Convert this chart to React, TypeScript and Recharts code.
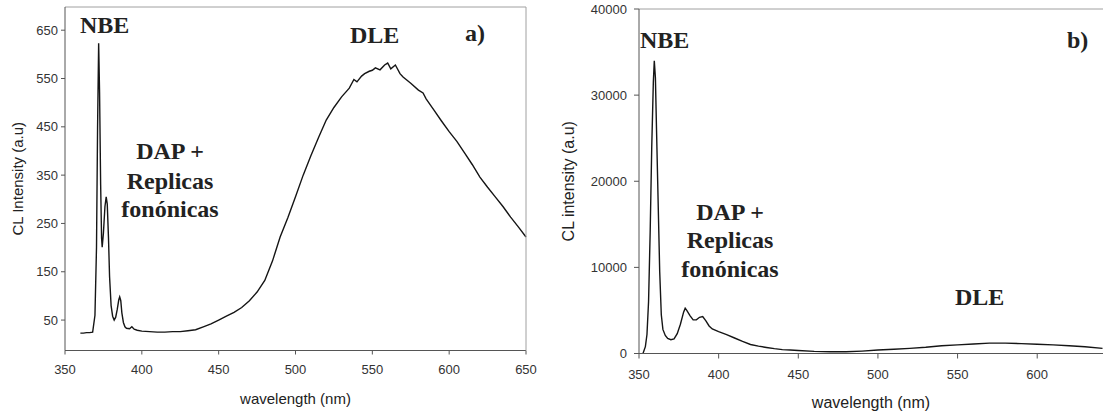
import React from "react";
import { LineChart, Line, XAxis, YAxis } from "recharts";

// panel a) CL spectrum
const nmA = [
  360, 362, 364, 366, 368, 369.5, 370.5, 371.2, 371.9, 372.5, 373.2, 373.8, 374.2, 375, 376, 376.8,
  377.5, 378.3, 379, 380, 381, 382, 383, 384, 385, 385.6, 386.3, 387, 388, 389, 390, 392, 393.5,
  395, 397, 400, 405, 410, 415, 420, 425, 430, 435, 440, 445, 450, 455, 460, 465, 470, 475, 480,
  485, 490, 495, 500, 505, 510, 515, 520, 525, 530, 535, 538, 540, 543, 545, 548, 550, 552, 555,
  558, 560, 562, 565, 568, 570, 575, 580, 583, 585, 590, 595, 600, 605, 610, 615, 620, 625, 630,
  635, 640, 645, 650,
];
const intensityA = [
  23, 23, 24, 24, 25, 60, 200, 450, 623, 520, 330, 220, 201, 230, 285, 305,
  290, 220, 140, 80, 58, 50, 56, 72, 92, 98, 90, 65, 45, 36, 33, 32, 36,
  31, 29, 27, 26, 25, 25, 26, 26, 28, 30, 36, 42, 50, 58, 66, 76, 90, 108, 132,
  172, 222, 262, 305, 350, 390, 428, 464, 490, 512, 530, 548, 543, 555, 560, 565, 567, 572, 568,
  578, 582, 570, 578, 560, 553, 540, 526, 520, 508, 485, 462, 440, 420, 396, 372, 346, 325, 305,
  285, 263, 243, 222,
];

// panel b) CL spectrum
const nmB = [
  352.5, 354, 355, 356, 357, 358, 359, 359.6, 360.3, 361, 362, 363, 364, 365, 366.5, 368, 370,
  372, 374, 376, 378, 379, 380, 382, 384, 386, 388, 390, 392, 394, 396, 400, 405, 410, 415, 420,
  425, 430, 435, 440, 445, 450, 460, 470, 480, 490, 500, 510, 520, 530, 540, 550, 560, 570, 580,
  590, 600, 610, 620, 630, 641,
];
const intensityB = [
  0, 800, 2200, 6000, 14000, 24000, 31500, 34000, 32000, 26000, 17700, 9500, 4500, 2800, 2100,
  1750, 1600, 1700, 2300, 3400, 4800, 5250, 5000, 4400, 3900, 3900, 4200, 4300, 3800, 3200, 2850,
  2550, 2200, 1800, 1400, 1050, 850, 700, 560, 450, 400, 350, 250, 200, 200, 280, 400, 500, 600,
  720, 900, 1000, 1100, 1200, 1200, 1150, 1080, 1000, 900, 780, 600,
];

const xTicksA = [350, 400, 450, 500, 550, 600, 650];
const yTicksA = [50, 150, 250, 350, 450, 550, 650];
const xTicksB = [350, 400, 450, 500, 550, 600];
const yTicksB = [0, 10000, 20000, 30000, 40000];

const dataA = nmA.map((nm, i) => ({ nm, v: intensityA[i] }));
const dataB = nmB.map((nm, i) => ({ nm, v: intensityB[i] }));

const axisColor = "#555";
const frameColor = "#a0a0a0";
const tickFont = { fontFamily: "'Liberation Sans', Arial, sans-serif", fontSize: 13, fill: "#333" };
const noteFont = {
  fontFamily: "'Liberation Serif', 'Times New Roman', serif",
  fontWeight: 700,
  fontSize: 24,
  fill: "#222",
};

export default function App() {
  return (
    <div style={{ position: "absolute", left: 0, top: 0, width: 1103, height: 417, background: "#fff" }}>
      <div style={{ position: "absolute", left: 0, top: 0 }}>
        <LineChart width={540} height={417} data={dataA} margin={{ top: 6, right: 14, bottom: 36.5, left: 0 }}>
          <XAxis
            dataKey="nm"
            type="number"
            domain={[350, 650]}
            ticks={xTicksA}
            height={30}
            tickSize={4}
            tickMargin={10}
            tick={tickFont}
            stroke={axisColor}
            label={{
              value: "wavelength (nm)",
              position: "bottom",
              offset: 13,
              style: { fontFamily: "'Liberation Sans', Arial, sans-serif", fontSize: 15, fill: "#222" },
            }}
          />
          <XAxis xAxisId="top" dataKey="nm" orientation="top" type="number" domain={[350, 650]} height={1} tick={false} tickLine={false} stroke={frameColor} />
          <YAxis
            type="number"
            domain={[-13, 698]}
            ticks={yTicksA}
            width={65}
            tickSize={4}
            tickMargin={3}
            tick={tickFont}
            stroke={axisColor}
            allowDataOverflow
            label={{
              value: "CL Intensity (a.u)",
              angle: -90,
              position: "insideLeft",
              offset: 18,
              style: { textAnchor: "middle", fontFamily: "'Liberation Sans', Arial, sans-serif", fontSize: 15, fill: "#222" },
            }}
          />
          <YAxis yAxisId="r" orientation="right" mirror type="number" domain={[-13, 698]} ticks={yTicksA} width={1} tickSize={4} tick={false} stroke={frameColor} allowDataOverflow />
          <Line xAxisId="top" yAxisId="r" type="linear" dataKey="v" stroke="none" dot={false} activeDot={false} isAnimationActive={false} />
          <Line type="linear" dataKey="v" stroke="#151515" strokeWidth={1.4} dot={false} isAnimationActive={false} />
        </LineChart>
      </div>
      <div style={{ position: "absolute", left: 545, top: 0 }}>
        <LineChart width={558} height={417} data={dataB} margin={{ top: 8, right: 0, bottom: 33.5, left: 0 }}>
          <XAxis
            dataKey="nm"
            type="number"
            domain={[350, 641.3]}
            ticks={xTicksB}
            height={30}
            tickSize={5}
            tickMargin={11}
            tick={tickFont}
            stroke={axisColor}
            allowDataOverflow
            label={{
              value: "wavelength (nm)",
              position: "bottom",
              offset: 13,
              style: { fontFamily: "'Liberation Sans', Arial, sans-serif", fontSize: 16, fill: "#222" },
            }}
          />
          <XAxis xAxisId="top" dataKey="nm" orientation="top" type="number" domain={[350, 641.3]} height={1} tick={false} tickLine={false} stroke={frameColor} allowDataOverflow />
          <YAxis
            type="number"
            domain={[0, 40000]}
            ticks={yTicksB}
            width={94}
            tickSize={5}
            tickMargin={7}
            tick={tickFont}
            stroke={axisColor}
            label={{
              value: "CL intensity (a.u)",
              angle: -90,
              position: "insideLeft",
              offset: 23,
              style: { textAnchor: "middle", fontFamily: "'Liberation Sans', Arial, sans-serif", fontSize: 16, fill: "#222" },
            }}
          />
          <Line xAxisId="top" type="linear" dataKey="v" stroke="none" dot={false} activeDot={false} isAnimationActive={false} />
          <Line type="linear" dataKey="v" stroke="#151515" strokeWidth={1.4} dot={false} isAnimationActive={false} />
        </LineChart>
      </div>
      <svg width={1103} height={417} style={{ position: "absolute", left: 0, top: 0, pointerEvents: "none" }}>
        <text x={80} y={33} style={noteFont}>NBE</text>
        <text x={170} y={159} textAnchor="middle" style={noteFont}>DAP +</text>
        <text x={170} y={189} textAnchor="middle" style={noteFont}>Replicas</text>
        <text x={170} y={217} textAnchor="middle" style={noteFont}>fonónicas</text>
        <text x={350} y={43} style={noteFont}>DLE</text>
        <text x={465} y={41} style={noteFont}>a)</text>
        <text x={640} y={48} style={noteFont}>NBE</text>
        <text x={730} y={220} textAnchor="middle" style={noteFont}>DAP +</text>
        <text x={730} y={248} textAnchor="middle" style={noteFont}>Replicas</text>
        <text x={730} y={277} textAnchor="middle" style={noteFont}>fonónicas</text>
        <text x={955} y={305} style={noteFont}>DLE</text>
        <text x={1067} y={48} style={noteFont}>b)</text>
      </svg>
    </div>
  );
}
